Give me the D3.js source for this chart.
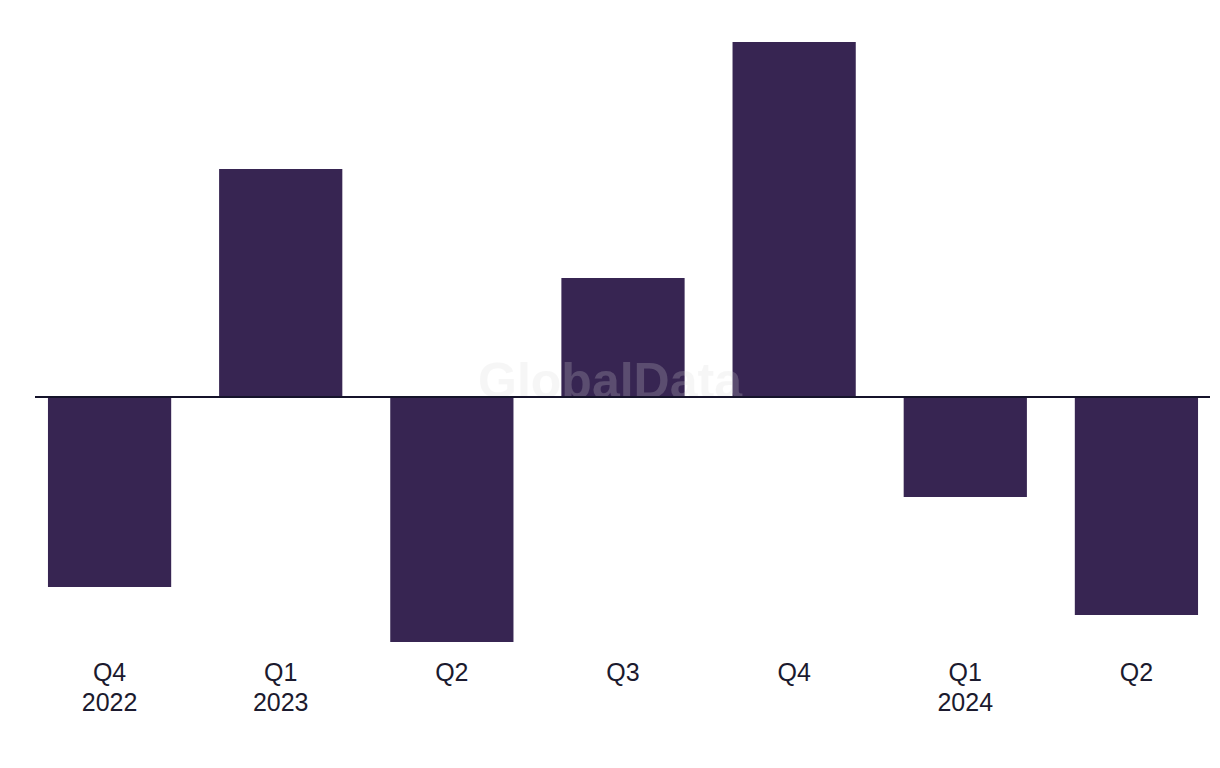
<!DOCTYPE html>
<html>
<head>
<meta charset="utf-8">
<script src="https://cdn.jsdelivr.net/npm/d3@7"></script>
<style>
  body { margin: 0; background: #fff; }
  svg { display: block; }
</style>
</head>
<body>
<div class="chart"></div>
<script>
// Data (arbitrary units).
const quarters = ['Q4', 'Q1', 'Q2', 'Q3', 'Q4', 'Q1', 'Q2'];
const years = ['2022', '2023', '', '', '', '2024', ''];
const values = [-1.90, 2.28, -2.45, 1.19, 3.55, -1.00, -2.18];

const width = 1220;
const height = 768;

const svg = d3.select('.chart')
              .append('svg')
              .attr('width', width)
              .attr('height', height);

const x = d3.scaleBand()
            .domain(d3.range(values.length))
            .range([24, 1222])
            .paddingInner(0.28)
            .paddingOuter(0.14);

const y = d3.scaleLinear()
            .domain([-2.45, 3.55])
            .range([642, 42]);

// Bars.
svg.selectAll('rect.bar')
   .data(values)
   .enter()
   .append('rect')
   .attr('class', 'bar')
   .attr('x', (d, i) => x(i))
   .attr('width', x.bandwidth())
   .attr('y', (d) => y(Math.max(0, d)))
   .attr('height', (d) => Math.abs(y(d) - y(0)))
   .attr('fill', '#372552');

// Watermark (sits over the bars).
svg.append('text')
   .attr('x', 610)
   .attr('y', 398)
   .attr('text-anchor', 'middle')
   .attr('font-family', 'Liberation Sans, Arial, sans-serif')
   .attr('font-weight', 'bold')
   .attr('font-size', 50)
   .attr('fill', '#dadada')
   .attr('opacity', 0.22)
   .text('GlobalData');

// Zero line.
svg.append('line')
   .attr('x1', 35)
   .attr('x2', 1210)
   .attr('y1', y(0))
   .attr('y2', y(0))
   .attr('stroke', '#15132a')
   .attr('stroke-width', 2);

// Category labels.
const labels = svg.selectAll('text.label')
                  .data(quarters)
                  .enter()
                  .append('text')
                  .attr('class', 'label')
                  .attr('text-anchor', 'middle')
                  .attr('font-family', 'Liberation Sans, Arial, sans-serif')
                  .attr('font-size', 25)
                  .attr('fill', '#1b1a2e');

labels.append('tspan')
      .attr('x', (d, i) => x(i) + x.bandwidth() / 2)
      .attr('y', 681)
      .text((d) => d);

labels.append('tspan')
      .attr('x', (d, i) => x(i) + x.bandwidth() / 2)
      .attr('y', 711)
      .text((d, i) => years[i]);
</script>
</body>
</html>
